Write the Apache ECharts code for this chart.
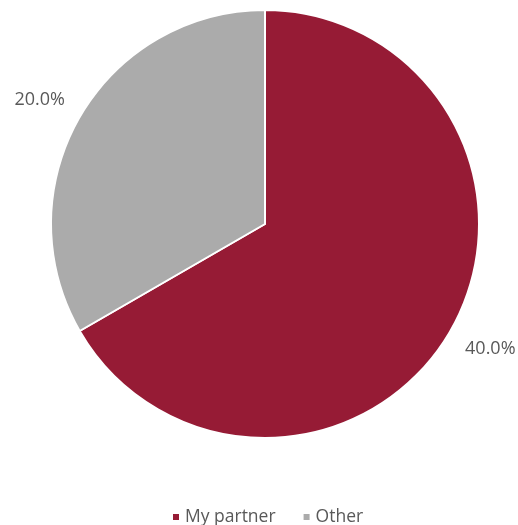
<!DOCTYPE html>
<html>
<head>
<meta charset="utf-8">
<script src="https://cdn.jsdelivr.net/npm/echarts@6/dist/echarts.min.js"></script>
<style>
  html, body { margin: 0; padding: 0; background: #ffffff; }
  #chart { width: 518px; height: 525px; }
</style>
</head>
<body>
<div id="chart"></div>
<script>
// Answer categories and their shares (percent)
const categories = ['My partner', 'Other'];
const values = [40, 20];
const colors = ['#961B35', '#ABABAB'];

const LABEL_FONT = 18;
const CENTER = [265, 224];

const chart = echarts.init(document.getElementById('chart'), null, { renderer: 'canvas' });

const pieData = categories.map((name, i) => ({
  name: name,
  value: values[i],
  itemStyle: { color: colors[i] }
}));

chart.setOption({
  animation: false,
  backgroundColor: '#ffffff',
  textStyle: { fontFamily: '"Open Sans", sans-serif' },
  legend: {
    data: categories,
    left: 166,
    top: 503,
    icon: 'rect',
    itemWidth: 8,
    itemHeight: 8,
    itemGap: 26,
    textStyle: { color: '#595959', fontSize: 17.5, fontFamily: '"Open Sans", sans-serif' }
  },
  series: [{
    type: 'pie',
    center: CENTER,
    radius: 214,
    startAngle: 90,
    clockwise: true,
    data: pieData,
    itemStyle: { borderColor: '#ffffff', borderWidth: 2 },
    label: {
      show: true,
      position: 'outside',
      distanceToLabelLine: 0,
      overflow: 'none',
      formatter: (p) => p.value.toFixed(1) + '%',
      color: '#595959',
      fontSize: LABEL_FONT,
      fontFamily: '"Open Sans", sans-serif'
    },
    labelLine: { show: false, length: 17, length2: 0 },
    // put the label box's nearest corner on the end of its (hidden) label line
    labelLayout: (p) => {
      const pts = p.labelLinePoints;
      const end = pts[pts.length - 1];
      const sx = end[0] >= CENTER[0] ? 1 : -1;
      const sy = end[1] >= CENTER[1] ? 1 : -1;
      const w = p.labelRect.width;
      const h = p.labelRect.height;
      return {
        x: end[0] + sx * w / 2,
        y: end[1] + sy * h / 2,
        align: 'center',
        verticalAlign: 'middle',
        fontSize: LABEL_FONT
      };
    },
    emphasis: { disabled: true }
  }]
});
</script>
</body>
</html>
